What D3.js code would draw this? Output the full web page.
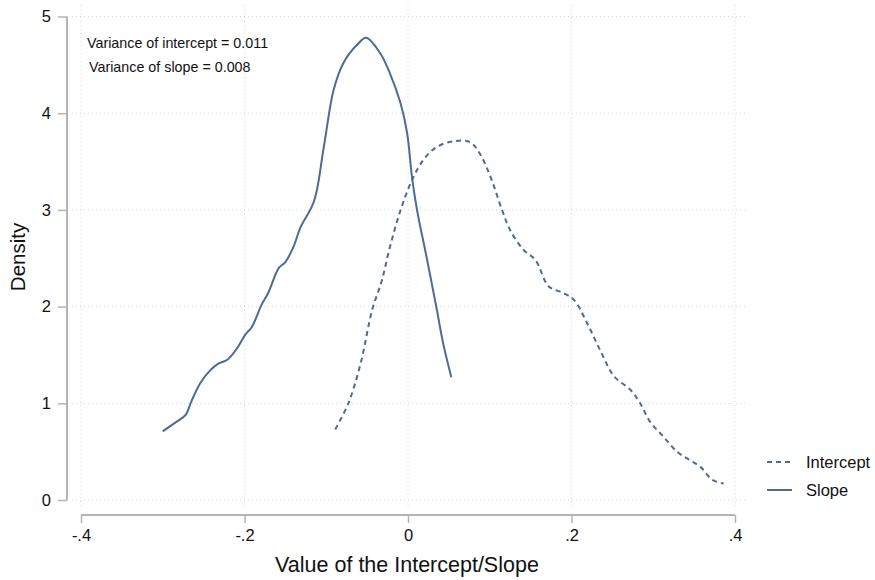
<!DOCTYPE html>
<html>
<head>
<meta charset="utf-8">
<script src="https://cdn.jsdelivr.net/npm/d3@7"></script>
<style>
  body { margin: 0; background: #fff; }
  svg { font-family: "Liberation Sans", Arial, sans-serif; }
</style>
</head>
<body>
<svg id="chart" width="875" height="580"></svg>
<script>
// kernel density of the slope (solid line)
var slopeX = [-0.300, -0.283, -0.272, -0.265, -0.254, -0.242, -0.232, -0.221, -0.209, -0.199,
              -0.191, -0.179, -0.171, -0.158, -0.150, -0.140, -0.132, -0.115, -0.103, -0.091,
              -0.079, -0.062, -0.051, -0.034, -0.022, -0.009, -0.001, 0.005, 0.011,
              0.023, 0.035, 0.043, 0.053];
var slopeY = [0.71, 0.81, 0.88, 1.02, 1.21, 1.34, 1.41, 1.45, 1.57, 1.71,
              1.79, 2.02, 2.14, 2.40, 2.46, 2.62, 2.81, 3.09, 3.65, 4.24,
              4.52, 4.71, 4.78, 4.62, 4.41, 4.10, 3.79, 3.33, 3.00,
              2.50, 1.98, 1.62, 1.27];

// kernel density of the intercept (dashed line)
var interceptX = [-0.089, -0.073, -0.058, -0.044, -0.032, -0.022, -0.009, 0.005, 0.019, 0.035,
                  0.056, 0.076, 0.088, 0.101, 0.115, 0.125, 0.141, 0.156, 0.172, 0.190,
                  0.203, 0.219, 0.235, 0.252, 0.272, 0.284, 0.296, 0.313, 0.329, 0.345,
                  0.358, 0.372, 0.386];
var interceptY = [0.73, 1.00, 1.41, 1.96, 2.27, 2.62, 3.00, 3.31, 3.52, 3.65,
                  3.71, 3.70, 3.58, 3.34, 3.00, 2.79, 2.59, 2.48, 2.21, 2.14,
                  2.07, 1.83, 1.55, 1.28, 1.14, 1.00, 0.81, 0.65, 0.50, 0.41,
                  0.34, 0.21, 0.17];

var xTicks = [-0.4, -0.2, 0, 0.2, 0.4];
var xTickLabels = ["-.4", "-.2", "0", ".2", ".4"];
var yTicks = [0, 1, 2, 3, 4, 5];
var notes = ["Variance of intercept = 0.011", "Variance of slope = 0.008"];
var legendLabels = ["Intercept", "Slope"];

var lineColor = "#4c6b95";
var axisColor = "#b4b4b4";
var gridColor = "#d8d8d8";

var svg = d3.select("#chart");

var xScale = d3.scaleLinear().domain([-0.4, 0.4]).range([81, 735]);
var yScale = d3.scaleLinear().domain([0, 5]).range([500, 16.5]);

// grid
var grid = svg.append("g").attr("class", "grid");
grid.selectAll(".hgrid")
    .data(yTicks)
    .enter().append("line")
    .attr("x1", 72).attr("x2", 746)
    .attr("y1", function(d) { return yScale(d); })
    .attr("y2", function(d) { return yScale(d); })
    .attr("stroke", gridColor)
    .attr("stroke-width", 1)
    .attr("stroke-dasharray", "1,3");
grid.selectAll(".vgrid")
    .data(xTicks)
    .enter().append("line")
    .attr("x1", function(d) { return xScale(d); })
    .attr("x2", function(d) { return xScale(d); })
    .attr("y1", 5).attr("y2", 509)
    .attr("stroke", gridColor)
    .attr("stroke-width", 1)
    .attr("stroke-dasharray", "1,3");

// Y-axis
var yAxis = d3.axisLeft(yScale).tickValues(yTicks).tickSize(9).tickPadding(7)
              .tickFormat(d3.format("d"));
var gy = svg.append("g")
            .attr("transform", "translate(67,0)")
            .call(yAxis);
gy.select(".domain").attr("stroke", axisColor).attr("stroke-width", 2)
  .attr("d", "M0," + yScale(5) + "V" + yScale(0));
gy.selectAll(".tick line").attr("stroke", axisColor).attr("stroke-width", 1.5);
gy.selectAll(".tick text").style("font-size", "16.5px").style("fill", "#111")
  .style("font-family", "Liberation Sans, Arial, sans-serif");

// X-axis
var xAxis = d3.axisBottom(xScale).tickValues(xTicks).tickSize(8).tickPadding(6)
              .tickFormat(function(d, i) { return xTickLabels[i]; });
var gx = svg.append("g")
            .attr("transform", "translate(0,515)")
            .call(xAxis);
gx.select(".domain").attr("stroke", axisColor).attr("stroke-width", 2)
  .attr("d", "M" + xScale(-0.4) + ",0H" + xScale(0.4));
gx.selectAll(".tick line").attr("stroke", axisColor).attr("stroke-width", 1.5);
gx.selectAll(".tick text").style("font-size", "16.5px").style("fill", "#111")
  .style("font-family", "Liberation Sans, Arial, sans-serif");

// axis titles
svg.append("text")
   .attr("x", 407).attr("y", 572)
   .attr("text-anchor", "middle")
   .style("font-size", "21.5px").style("fill", "#111")
   .text("Value of the Intercept/Slope");
svg.append("text")
   .attr("transform", "translate(25,257) rotate(-90)")
   .attr("text-anchor", "middle")
   .style("font-size", "20.5px").style("fill", "#111")
   .text("Density");

// curves
var line = d3.line()
             .x(function(d) { return xScale(d[0]); })
             .y(function(d) { return yScale(d[1]); })
             .curve(d3.curveCatmullRom);

svg.append("path")
   .datum(interceptX.map(function(x, i) { return [x, interceptY[i]]; }))
   .attr("fill", "none")
   .attr("stroke", lineColor)
   .attr("stroke-width", 2)
   .attr("stroke-dasharray", "5,4")
   .attr("d", line);

svg.append("path")
   .datum(slopeX.map(function(x, i) { return [x, slopeY[i]]; }))
   .attr("fill", "none")
   .attr("stroke", lineColor)
   .attr("stroke-width", 2)
   .attr("d", line);

// notes
svg.selectAll(".note")
   .data(notes)
   .enter().append("text")
   .attr("class", "note")
   .attr("x", function(d, i) { return 87 + i * 2; })
   .attr("y", function(d, i) { return 48 + i * 24; })
   .style("font-size", "14.3px").style("fill", "#111")
   .text(function(d) { return d; });

// legend
var legend = svg.append("g").attr("class", "legend");
legendLabels.forEach(function(lab, i) {
  legend.append("line")
        .attr("x1", 767).attr("x2", 792)
        .attr("y1", 462 + i * 28).attr("y2", 462 + i * 28)
        .attr("stroke", lineColor)
        .attr("stroke-width", 2)
        .attr("stroke-dasharray", i === 0 ? "5,4" : null);
  legend.append("text")
        .attr("x", 806).attr("y", 462 + i * 28)
        .attr("dy", "0.35em")
        .style("font-size", "16.5px").style("fill", "#111")
        .text(lab);
});
</script>
</body>
</html>
